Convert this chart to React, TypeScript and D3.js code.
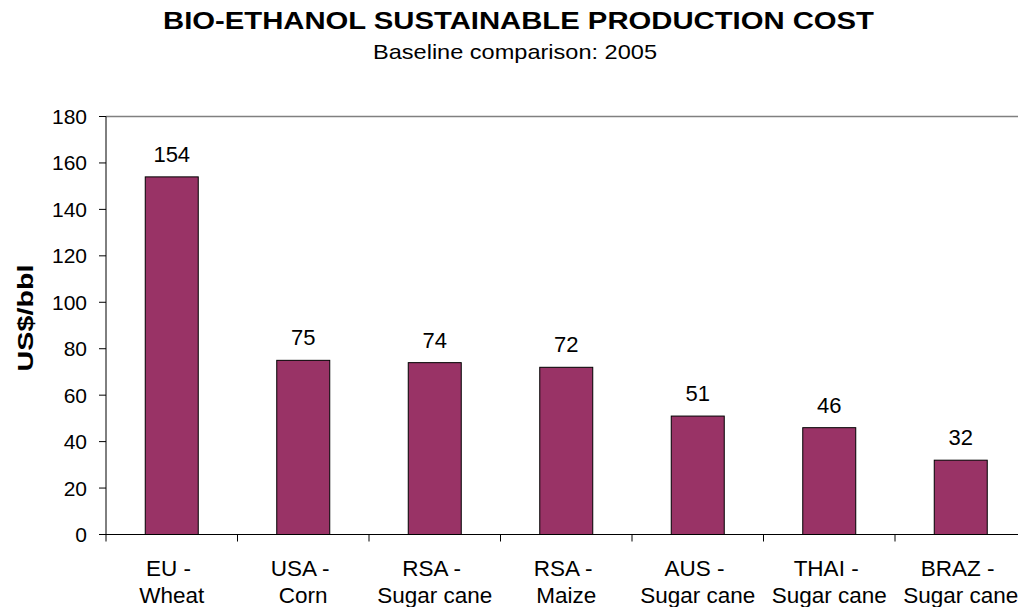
import React, { useEffect, useRef } from 'react';
import * as d3 from 'd3';

const categories = [
    ['EU - ', 'Wheat'],
    ['USA - ', 'Corn'],
    ['RSA - ', 'Sugar cane'],
    ['RSA - ', 'Maize'],
    ['AUS - ', 'Sugar cane'],
    ['THAI - ', 'Sugar cane'],
    ['BRAZ - ', 'Sugar cane'],
];
const costs = [154, 75, 74, 72, 51, 46, 32];
const yTicks = [0, 20, 40, 60, 80, 100, 120, 140, 160, 180];

const title = 'BIO-ETHANOL SUSTAINABLE PRODUCTION COST';
const subtitle = 'Baseline comparison: 2005';
const yTitle = 'US$/bbl';

export default function App() {
    const chartRef = useRef<SVGSVGElement | null>(null);

    useEffect(() => {
        if (!chartRef.current) return;
        const svg = d3.select(chartRef.current);
        svg.selectAll('*').remove();

        const font = '"Liberation Sans", Arial, sans-serif';
        const left = 106, top = 116.5, bottom = 534.5;
        const step = 131.5;
        const right = left + step * categories.length;

        const x = d3.scaleBand<number>()
            .domain(d3.range(categories.length))
            .range([left, right])
            .paddingInner(0.597)
            .paddingOuter(0.2985);
        const y = d3.scaleLinear().domain([0, 180]).range([bottom, top]);

        // titles
        svg.append('text')
            .attr('x', 163).attr('y', 29)
            .attr('textLength', 711).attr('lengthAdjust', 'spacingAndGlyphs')
            .style('font-family', font).style('font-size', '24.5px').style('font-weight', 'bold')
            .text(title);
        svg.append('text')
            .attr('x', 373).attr('y', 59)
            .attr('textLength', 284).attr('lengthAdjust', 'spacingAndGlyphs')
            .style('font-family', font).style('font-size', '21px')
            .text(subtitle);

        // top border of plot area
        svg.append('line')
            .attr('x1', left).attr('x2', right)
            .attr('y1', top).attr('y2', top)
            .attr('stroke', '#808080').attr('stroke-width', 1.5);

        // bars
        svg.selectAll('.bar')
            .data(costs)
            .enter().append('rect')
            .attr('class', 'bar')
            .attr('x', (_, i) => x(i)!)
            .attr('y', d => y(d))
            .attr('width', x.bandwidth())
            .attr('height', d => y(0) - y(d))
            .attr('fill', '#993366')
            .attr('stroke', '#000')
            .attr('stroke-width', 1);

        svg.selectAll('.val')
            .data(costs)
            .enter().append('text')
            .attr('x', (_, i) => x(i)! + x.bandwidth() / 2)
            .attr('y', d => y(d) - 15)
            .attr('text-anchor', 'middle')
            .style('font-family', font).style('font-size', '22px')
            .text(d => d);

        // y axis
        const yAxis = svg.append('g');
        yAxis.append('line')
            .attr('x1', left).attr('x2', left)
            .attr('y1', top).attr('y2', bottom)
            .attr('stroke', '#000');
        yAxis.selectAll('.yt')
            .data(yTicks)
            .enter().append('line')
            .attr('x1', left - 7).attr('x2', left)
            .attr('y1', d => y(d)).attr('y2', d => y(d))
            .attr('stroke', '#000');
        yAxis.selectAll('.yl')
            .data(yTicks)
            .enter().append('text')
            .attr('x', left - 19)
            .attr('y', d => y(d) + 7.5)
            .attr('text-anchor', 'end')
            .style('font-family', font).style('font-size', '21px')
            .text(d => d);

        svg.append('text')
            .attr('transform', 'translate(33,318) rotate(-90)')
            .attr('x', -53.5)
            .attr('textLength', 107).attr('lengthAdjust', 'spacingAndGlyphs')
            .style('font-family', font).style('font-size', '22px').style('font-weight', 'bold')
            .text(yTitle);

        // x axis
        const xAxis = svg.append('g');
        xAxis.append('line')
            .attr('x1', left).attr('x2', right)
            .attr('y1', bottom).attr('y2', bottom)
            .attr('stroke', '#000');
        xAxis.selectAll('.xt')
            .data(d3.range(categories.length + 1))
            .enter().append('line')
            .attr('x1', i => left + i * x.step()).attr('x2', i => left + i * x.step())
            .attr('y1', bottom).attr('y2', bottom + 7)
            .attr('stroke', '#000');
        const xl = xAxis.selectAll('.xl')
            .data(categories)
            .enter().append('text')
            .attr('text-anchor', 'middle')
            .style('font-family', font).style('font-size', '22.5px')
            .style('white-space', 'pre');
        xl.append('tspan')
            .attr('x', (_, i) => x(i)! + x.bandwidth() / 2)
            .attr('y', 576)
            .text(d => d[0]);
        xl.append('tspan')
            .attr('x', (_, i) => x(i)! + x.bandwidth() / 2)
            .attr('y', 603)
            .text(d => d[1]);
    }, []);

    return (
        <div style={{ position: 'absolute', left: 0, top: 0, width: 1018, height: 607, background: '#fff' }}>
            <svg ref={chartRef} width={1018} height={607} style={{ display: 'block' }} />
        </div>
    );
}
